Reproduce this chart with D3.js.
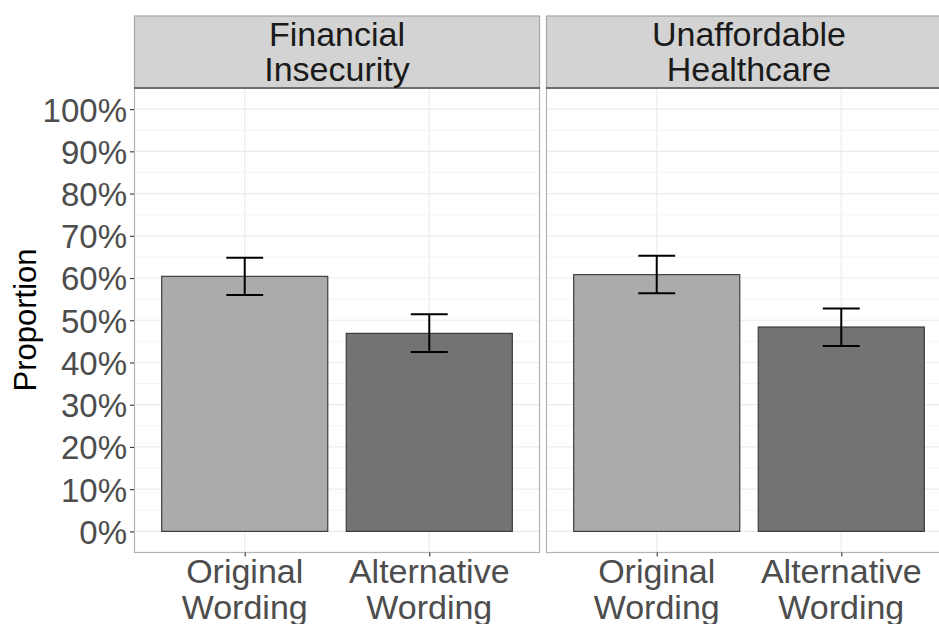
<!DOCTYPE html>
<html>
<head>
<meta charset="utf-8">
<script src="https://cdn.jsdelivr.net/npm/d3@7"></script>
<style>
  html, body { margin: 0; padding: 0; background: #fff; }
  svg { display: block; font-family: "Liberation Sans", Arial, Helvetica, sans-serif; }
</style>
</head>
<body>
<svg id="chart" width="939" height="624"></svg>
<script>
// Facets, categories and estimates with 95% intervals
const facets = ["Financial\nInsecurity", "Unaffordable\nHealthcare"];
const wordings = ["Original\nWording", "Alternative\nWording"];
const proportion = [[0.604, 0.469], [0.608, 0.484]];
const lower = [[0.560, 0.425], [0.564, 0.439]];
const upper = [[0.648, 0.514], [0.653, 0.528]];
const yTicks = [0, 0.1, 0.2, 0.3, 0.4, 0.5, 0.6, 0.7, 0.8, 0.9, 1.0];
const barFills = ["#ababab", "#737373"];

const svg = d3.select("#chart");

const panelW = 406;
const panelLefts = [134, 546];
const stripTop = 16, panelTop = 88, panelBottom = 552.5;

const y = d3.scaleLinear().domain([-0.05, 1.05]).range([panelBottom, panelTop]);
const x = d3.scalePoint().domain(wordings).range([0, panelW]).padding(0.6);
const step = x.step();
const barW = step * 0.9;
const capW = step * 0.2;

const minorTicks = d3.range(0.05, 1.0, 0.1);

facets.forEach((facet, fi) => {
  const g = svg.append("g").attr("transform", `translate(${panelLefts[fi]},0)`);

  // panel background and grid
  g.append("rect").attr("x", 0).attr("y", panelTop).attr("width", panelW)
    .attr("height", panelBottom - panelTop).attr("fill", "#fff");

  g.selectAll(".minor").data(minorTicks).join("line")
    .attr("x1", 0).attr("x2", panelW)
    .attr("y1", d => y(d)).attr("y2", d => y(d))
    .attr("stroke", "#f4f4f4").attr("stroke-width", 1);

  g.selectAll(".major").data(yTicks).join("line")
    .attr("x1", 0).attr("x2", panelW)
    .attr("y1", d => y(d)).attr("y2", d => y(d))
    .attr("stroke", "#ebebeb").attr("stroke-width", 1.2);

  g.selectAll(".vmajor").data(wordings).join("line")
    .attr("x1", d => x(d)).attr("x2", d => x(d))
    .attr("y1", panelTop).attr("y2", panelBottom)
    .attr("stroke", "#ebebeb").attr("stroke-width", 1.2);

  // bars
  g.selectAll(".bar").data(wordings).join("rect")
    .attr("x", d => x(d) - barW / 2)
    .attr("width", barW)
    .attr("y", (d, i) => y(proportion[fi][i]))
    .attr("height", (d, i) => y(0) - y(proportion[fi][i]))
    .attr("fill", (d, i) => barFills[i])
    .attr("stroke", "#333").attr("stroke-width", 1.1);

  // error bars
  const eb = g.selectAll(".eb").data(wordings).join("g");
  eb.append("line")
    .attr("x1", d => x(d)).attr("x2", d => x(d))
    .attr("y1", (d, i) => y(lower[fi][i])).attr("y2", (d, i) => y(upper[fi][i]));
  eb.append("line")
    .attr("x1", d => x(d) - capW / 2).attr("x2", d => x(d) + capW / 2)
    .attr("y1", (d, i) => y(upper[fi][i])).attr("y2", (d, i) => y(upper[fi][i]));
  eb.append("line")
    .attr("x1", d => x(d) - capW / 2).attr("x2", d => x(d) + capW / 2)
    .attr("y1", (d, i) => y(lower[fi][i])).attr("y2", (d, i) => y(lower[fi][i]));
  eb.selectAll("line").attr("stroke", "#000").attr("stroke-width", 2);

  // panel border
  g.append("rect").attr("x", 0.5).attr("y", panelTop).attr("width", panelW - 1)
    .attr("height", panelBottom - panelTop).attr("fill", "none")
    .attr("stroke", "#b3b3b3").attr("stroke-width", 1.2);

  // strip
  g.append("rect").attr("x", 0.5).attr("y", stripTop).attr("width", panelW - 1)
    .attr("height", panelTop - stripTop).attr("fill", "#d3d3d3")
    .attr("stroke", "#a6a6a6").attr("stroke-width", 1.2);
  g.append("line").attr("x1", 0).attr("x2", panelW)
    .attr("y1", panelTop).attr("y2", panelTop)
    .attr("stroke", "#555").attr("stroke-width", 1.4);

  const st = g.append("text").attr("text-anchor", "middle")
    .attr("font-size", 34).attr("fill", "#1a1a1a");
  facet.split("\n").forEach((line, li) => {
    st.append("tspan").attr("x", panelW / 2).attr("y", 46 + li * 35).text(line);
  });

  // x axis ticks and labels
  const xAxis = d3.axisBottom(x).tickSize(4).tickFormat("");
  const xa = g.append("g").attr("transform", `translate(0,${panelBottom})`).call(xAxis);
  xa.select(".domain").remove();
  xa.selectAll(".tick line").attr("stroke", "#333").attr("stroke-width", 1.1);

  const xl = g.selectAll(".xlab").data(wordings).join("text")
    .attr("text-anchor", "middle").attr("font-size", 34).attr("fill", "#4d4d4d");
  xl.each(function (d) {
    d.split("\n").forEach((line, li) => {
      d3.select(this).append("tspan").attr("x", x(d)).attr("y", 583 + li * 36).text(line);
    });
  });

  // y axis on the first panel only
  if (fi === 0) {
    const yAxis = d3.axisLeft(y).tickValues(yTicks).tickSize(4).tickPadding(3)
      .tickFormat(d3.format(".0%"));
    const ya = g.append("g").call(yAxis);
    ya.select(".domain").remove();
    ya.selectAll(".tick line").attr("stroke", "#333").attr("stroke-width", 1.1);
    ya.selectAll(".tick text").attr("font-size", 33).attr("fill", "#4d4d4d")
      .attr("font-family", "Liberation Sans, Arial, sans-serif")
      .attr("dy", "0.36em");
  }
});

// y axis title
svg.append("text")
  .attr("transform", "translate(36,320) rotate(-90)")
  .attr("text-anchor", "middle").attr("font-size", 31).attr("fill", "#000")
  .text("Proportion");
</script>
</body>
</html>
